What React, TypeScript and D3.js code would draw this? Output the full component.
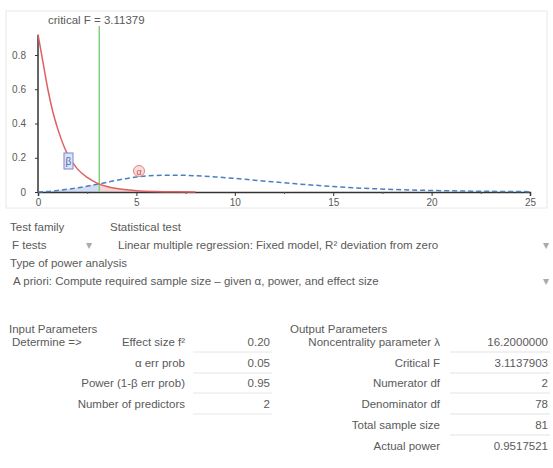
import React, { useEffect, useRef } from 'react';
import * as d3 from 'd3';

// central F(2,78) density
const centralX = [0, 0.25, 0.5, 0.75, 1, 1.5, 2, 2.5, 3, 3.5, 4, 5, 6, 7, 8];
const centralY = [0.92, 0.76, 0.6, 0.47, 0.37, 0.22, 0.135, 0.085, 0.052, 0.032, 0.02, 0.008, 0.003, 0.001, 0];
// noncentral density (lambda = 16.2), blue dashed
const noncentX = [0, 0.5, 1, 1.5, 2, 3, 4, 5, 6, 7, 8, 9, 10, 11, 12, 13, 14, 15, 16, 18, 20, 22, 24, 25];
const noncentY = [0, 0.003, 0.009, 0.016, 0.024, 0.045, 0.068, 0.088, 0.097, 0.098, 0.095, 0.088, 0.079, 0.069, 0.059, 0.049, 0.04, 0.032, 0.025, 0.015, 0.009, 0.005, 0.003, 0.002];
const criticalF = 3.11379;
const xTicks = [0, 5, 10, 15, 20, 25];
const yTicks = [0, 0.2, 0.4, 0.6, 0.8];

const inputLabels = ['Effect size f²', 'α err prob', 'Power (1-β err prob)', 'Number of predictors'];
const inputValues = ['0.20', '0.05', '0.95', '2'];
const outputLabels = ['Noncentrality parameter λ', 'Critical F', 'Numerator df', 'Denominator df', 'Total sample size', 'Actual power'];
const outputValues = ['16.2000000', '3.1137903', '2', '78', '81', '0.9517521'];

export default function App() {
  const ref = useRef<SVGSVGElement>(null);

  useEffect(() => {
    const svg = d3.select(ref.current);
    svg.selectAll('*').remove();
    const font = 'Liberation Sans, Arial, sans-serif';
    const txt = '#5a5a5a';

    svg.append('rect').attr('width', 553).attr('height', 468).attr('fill', '#fff');
    svg.append('rect')
      .attr('x', 6).attr('y', 11).attr('width', 541).attr('height', 197)
      .attr('fill', 'none').attr('stroke', '#e8e8e8');

    const x = d3.scaleLinear().domain([0, 25]).range([38, 530]);
    const y = d3.scaleLinear().domain([0, 0.8]).range([192, 55]);

    const central = centralX.map((v, i) => [v, centralY[i]] as [number, number]);
    const noncent = noncentX.map((v, i) => [v, noncentY[i]] as [number, number]);

    const g = svg.append('g');

    // beta area: under noncentral curve left of critical F
    const betaPts = noncent.filter(d => d[0] <= criticalF);
    betaPts.push([criticalF, 0.046]);
    g.append('path')
      .datum(betaPts)
      .attr('d', d3.area<[number, number]>().x(d => x(d[0])).y0(y(0)).y1(d => y(d[1])).curve(d3.curveMonotoneX))
      .attr('fill', '#c8d4f0').attr('opacity', 0.8);
    // alpha area: under central curve right of critical F
    const alphaPts = [[criticalF, 0.05] as [number, number]].concat(central.filter(d => d[0] > criticalF));
    g.append('path')
      .datum(alphaPts)
      .attr('d', d3.area<[number, number]>().x(d => x(d[0])).y0(y(0)).y1(d => y(d[1])).curve(d3.curveMonotoneX))
      .attr('fill', '#f3cccc').attr('opacity', 0.8);

    // axes
    const xAxis = d3.axisBottom(x).tickValues(xTicks).tickSize(4).tickFormat(d3.format('d'));
    const xa = g.append('g').attr('transform', `translate(0,${y(0)})`).call(xAxis);
    xa.select('.domain').attr('stroke', '#333').attr('stroke-width', 1.5);
    xa.selectAll('.tick line').attr('stroke', '#333');
    xa.selectAll('text').attr('font-family', font).attr('font-size', 10).attr('fill', txt);
    g.append('g').attr('transform', `translate(0,${y(0)})`)
      .call(d3.axisBottom(x).tickValues([2.5, 7.5, 12.5, 17.5, 22.5]).tickSize(2).tickFormat(() => ''))
      .call(s => s.select('.domain').remove())
      .selectAll('.tick line').attr('stroke', '#555');

    const yAxis = d3.axisLeft(y).tickValues(yTicks).tickSize(3).tickFormat(d => (d === 0 ? '0' : d3.format('.1f')(d as number)));
    const ya = g.append('g').attr('transform', `translate(${x(0)},0)`).call(yAxis);
    ya.select('.domain').attr('d', `M-0,${y(0)}V35`).attr('stroke', '#333').attr('stroke-width', 1.5);
    ya.selectAll('.tick line').attr('stroke', '#333');
    ya.selectAll('text').attr('font-family', font).attr('font-size', 10).attr('fill', txt).attr('x', -12);

    // critical F line
    g.append('line')
      .attr('x1', x(criticalF)).attr('x2', x(criticalF))
      .attr('y1', 26).attr('y2', y(0))
      .attr('stroke', '#7fd07f').attr('stroke-width', 1.5);
    g.append('text')
      .attr('x', 48).attr('y', 24)
      .attr('font-family', font).attr('font-size', 11.5).attr('fill', txt)
      .text(`critical F = ${criticalF}`);

    const line = d3.line<[number, number]>().x(d => x(d[0])).y(d => y(d[1])).curve(d3.curveMonotoneX);
    g.append('path').datum(noncent).attr('d', line)
      .attr('fill', 'none').attr('stroke', '#4a7fc0').attr('stroke-width', 1.5).attr('stroke-dasharray', '5,3');
    g.append('path').datum(central).attr('d', line)
      .attr('fill', 'none').attr('stroke', '#e06060').attr('stroke-width', 1.5);

    // beta / alpha markers
    g.append('rect').attr('x', 64).attr('y', 153).attr('width', 9).attr('height', 16)
      .attr('fill', '#dde4f7').attr('stroke', '#7788cc');
    g.append('text').attr('x', 68.5).attr('y', 165).attr('text-anchor', 'middle')
      .attr('font-family', font).attr('font-size', 10).attr('fill', '#5566aa').text('β');
    g.append('circle').attr('cx', 139).attr('cy', 171).attr('r', 5.5)
      .attr('fill', '#f7dede').attr('stroke', '#e08080');
    g.append('text').attr('x', 139).attr('y', 174.5).attr('text-anchor', 'middle')
      .attr('font-family', font).attr('font-size', 9).attr('fill', '#d05050').text('α');

    // form area
    const form = svg.append('g').attr('font-family', font).attr('font-size', 11.5).attr('fill', txt);
    form.append('text').attr('x', 10).attr('y', 231).text('Test family');
    form.append('text').attr('x', 110).attr('y', 231).text('Statistical test');
    form.append('text').attr('x', 12).attr('y', 249).text('F tests');
    form.append('text').attr('x', 86).attr('y', 249).text('▾').attr('fill', '#aaa');
    form.append('text').attr('x', 118).attr('y', 249)
      .text('Linear multiple regression: Fixed model, R² deviation from zero');
    form.append('text').attr('x', 543).attr('y', 249).text('▾').attr('fill', '#aaa');
    form.append('text').attr('x', 10).attr('y', 267).text('Type of power analysis');
    form.append('text').attr('x', 13).attr('y', 285)
      .text('A priori: Compute required sample size – given α, power, and effect size');
    form.append('text').attr('x', 543).attr('y', 285).text('▾').attr('fill', '#aaa');

    form.append('text').attr('x', 9).attr('y', 333).text('Input Parameters');
    form.append('text').attr('x', 12).attr('y', 346).text('Determine =>');
    const inRowY = [346, 367, 387, 408];
    inputLabels.forEach((l, i) => {
      form.append('text').attr('x', 185).attr('y', inRowY[i]).attr('text-anchor', 'end').text(l);
      form.append('text').attr('x', 270).attr('y', inRowY[i]).attr('text-anchor', 'end').text(inputValues[i]);
      form.append('line').attr('x1', 193).attr('x2', 272).attr('y1', inRowY[i] + 6).attr('y2', inRowY[i] + 6)
        .attr('stroke', '#e6e6e6');
    });

    form.append('text').attr('x', 290).attr('y', 333).text('Output Parameters');
    const outRowY = [346, 367, 387, 408, 429, 450];
    outputLabels.forEach((l, i) => {
      form.append('text').attr('x', 440).attr('y', outRowY[i]).attr('text-anchor', 'end').text(l);
      form.append('text').attr('x', 548).attr('y', outRowY[i]).attr('text-anchor', 'end').text(outputValues[i]);
      if (i < outputLabels.length - 1) {
        form.append('line').attr('x1', 450).attr('x2', 550).attr('y1', outRowY[i] + 6).attr('y2', outRowY[i] + 6)
          .attr('stroke', '#e3e3e3');
      }
    });
  }, []);

  return (
    <div style={{ position: 'absolute', left: 0, top: 0 }}>
      <svg ref={ref} width={553} height={468} />
    </div>
  );
}
